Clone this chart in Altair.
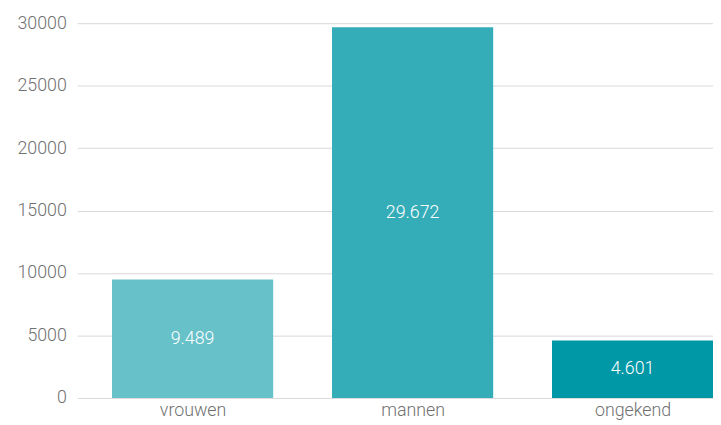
import altair as alt
import pandas as pd

categories = ["vrouwen", "mannen", "ongekend"]
values = [9489, 29672, 4601]
colors = ["#67C1C9", "#34ADB9", "#0097A7"]
labels = [f"{v:,}".replace(",", ".") for v in values]

df = pd.DataFrame({"cat": categories, "val": values, "lab": labels,
                   "pos": list(range(len(categories))),
                   "half": [v / 2 for v in values]})

FONT = "Roboto"
LABEL_COLOR = "#707070"

label_expr = "[" + ",".join(f"'{c}'" for c in categories) + "][datum.value]"

xscale = alt.Scale(domain=[-0.502, 2.343], nice=False, zero=False)

x = alt.X("pos:Q", title=None, scale=xscale,
          axis=alt.Axis(values=list(range(len(categories))), labelExpr=label_expr,
                        grid=False, ticks=False, domain=False, labelPadding=4,
                        labelFontSize=18, labelColor=LABEL_COLOR, labelFont=FONT,
                        labelFontWeight=300, labelFlush=False, labelOverlap=False))

bars = alt.Chart(df).mark_bar(clip=True, size=163).encode(
    x=x,
    y=alt.Y("val:Q", title=None,
            scale=alt.Scale(domain=[0, 30000], nice=False),
            axis=alt.Axis(values=[0, 5000, 10000, 15000, 20000, 25000, 30000],
                          format="d",
                          ticks=False, domain=False, labelPadding=11,
                          labelFontSize=18, labelColor=LABEL_COLOR, labelFont=FONT,
                          labelFontWeight=300, gridColor="#d9d9d9")),
    color=alt.Color("cat:N", scale=alt.Scale(domain=categories, range=colors), legend=None),
)

text = alt.Chart(df).mark_text(color="white", fontSize=18, font=FONT, fontWeight=300,
                               baseline="middle").encode(
    x=alt.X("pos:Q", scale=xscale),
    y=alt.Y("half:Q"),
    text="lab:N",
)

chart = (bars + text).properties(
    width=643, height=379,
    autosize=alt.AutoSizeParams(type="none"),
    padding={"left": 70, "top": 13, "right": 0, "bottom": 24},
).configure_view(stroke=None)

chart.save("out.html", embed_options={"renderer": "svg", "actions": False})
